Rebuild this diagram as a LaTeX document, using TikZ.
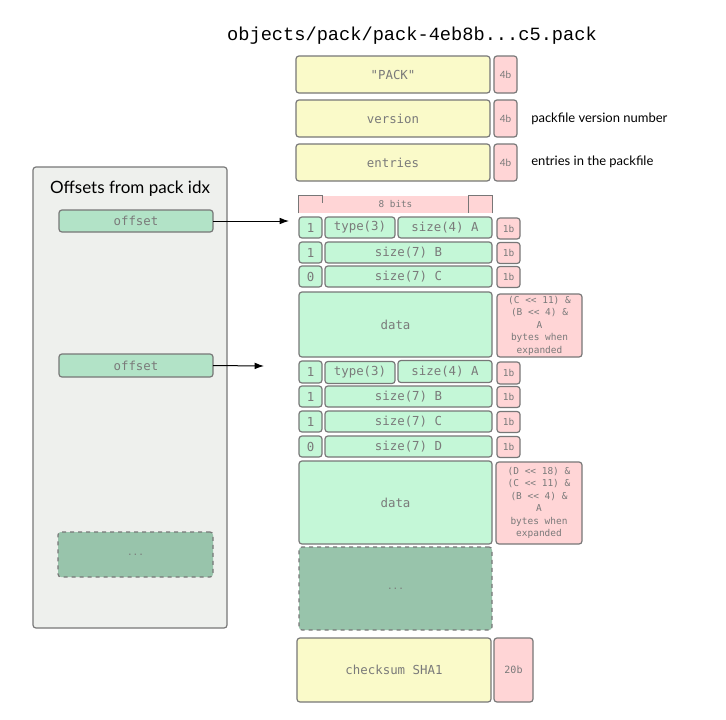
\documentclass[tikz,border=0pt]{standalone}
\usepackage{fontspec}
\setsansfont{Lato}
\setmonofont{DejaVu Sans Mono}
\newfontfamily\titlefont{Liberation Mono}
\usetikzlibrary{arrows.meta}
\definecolor{yel}{HTML}{FAFAC9}
\definecolor{pnk}{HTML}{FFD5D6}
\definecolor{grn}{HTML}{C4F7D7}
\definecolor{ofs}{HTML}{B2E3C7}
\definecolor{dgr}{HTML}{98C4AB}
\definecolor{pan}{HTML}{EEF0ED}
\definecolor{brd}{HTML}{777777}
\definecolor{txt}{HTML}{7A7A7A}
\tikzset{
  sz/.style 2 args={minimum width=#1*0.75pt, minimum height=#2*0.75pt},
  base/.style={draw=brd, line width=0.9pt, rounded corners=2.2pt, inner sep=0pt, outer sep=0pt, text=txt},
  ybox/.style={base, fill=yel, font=\ttfamily\fontsize{9.3}{11}\selectfont},
  gbox/.style={base, fill=grn, font=\ttfamily\fontsize{9.3}{11}\selectfont},
  pbox/.style={base, fill=pnk, font=\ttfamily\fontsize{7.1}{9.4}\selectfont, align=center},
  obox/.style={base, fill=ofs, font=\ttfamily\fontsize{9.3}{11}\selectfont},
  dbox/.style={base, fill=dgr, dashed, font=\ttfamily\fontsize{7}{9}\selectfont},
  lbl/.style={font=\sffamily\fontsize{9.75}{12}\selectfont, anchor=west, inner sep=0pt},
  arr/.style={-{Latex[length=7pt,width=5pt]}, line width=0.75pt},
  sb/.style={font=\sffamily\fontsize{7.5}{9}\selectfont},
}
\begin{document}
\begin{tikzpicture}[x=0.75pt,y=-0.75pt]
\useasboundingbox (0,0) rectangle (726,719);
\node[font=\titlefont\fontsize{14}{16}\selectfont] (title) at (412,36) {objects/pack/pack-4eb8b...c5.pack};
% header
\node[ybox, sz={194}{37}] (pack) at (393,74.5) {"PACK"};
\node[pbox, sb, sz={23}{37}] (p1) at (505.5,74.5) {4b};
\node[ybox, sz={194}{37}] (ver) at (393,118.5) {version};
\node[pbox, sb, sz={23}{37}] (p2) at (505.5,118.5) {4b};
\node[ybox, sz={194}{37}] (ent) at (393,162.5) {entries};
\node[pbox, sb, sz={23}{37}] (p3) at (505.5,162.5) {4b};
\node[lbl] (lv) at (531,119) {packfile version number};
\node[lbl] (le) at (531,162) {entries in the packfile};
% 8 bits
\node[fill=pnk, sz={193}{17}, inner sep=0pt, text=txt, font=\ttfamily\fontsize{7}{9}\selectfont] (bits) at (395.5,204.5) {8 bits};
\draw[brd, line width=0.9pt] (bits.south west) -- (bits.north west) -- ++(24,0) -- ++(0,7);
\draw[brd, line width=0.9pt] (bits.south east) -- (bits.north east) -- ++(-24,0) -- ++(0,17);
% object 1
\node[gbox, sz={23}{21}] (a1) at (310.5,227.5) {1};
\node[gbox, sz={70}{21}] (at) at (360,227.5) {type(3)};
\node[gbox, sz={94}{21}] (as) at (445,227.5) {size(4) A};
\node[pbox, sz={23}{21}] (ab1) at (508.5,228.5) {1b};
\node[gbox, sz={23}{21}] (b1) at (310.5,252.5) {1};
\node[gbox, sz={167}{21}] (bs) at (408.5,252.5) {size(7) B};
\node[pbox, sz={23}{21}] (bb1) at (508.5,253) {1b};
\node[gbox, sz={23}{21}] (c1) at (310.5,276.5) {0};
\node[gbox, sz={167}{21}] (cs) at (408.5,276.5) {size(7) C};
\node[pbox, sz={23}{21}] (cb1) at (508.5,277) {1b};
\node[gbox, sz={193}{65}] (d1) at (395.5,324.5) {data};
\node[pbox, sz={85}{63}] (e1) at (539.5,325.5) {(C << 11) \&\\(B << 4) \&\\A\\bytes when\\expanded};
% object 2
\node[gbox, sz={23}{22}] (a2) at (310.5,372) {1};
\node[gbox, sz={70}{22}] (at2) at (360,372.5) {type(3)};
\node[gbox, sz={94}{22}] (as2) at (445,371.5) {size(4) A};
\node[pbox, sz={23}{22}] (ab2) at (508.5,373) {1b};
\node[gbox, sz={23}{21}] (b2) at (310.5,396.5) {1};
\node[gbox, sz={167}{21}] (bs2) at (408.5,396.5) {size(7) B};
\node[pbox, sz={23}{21}] (bb2) at (508.5,397) {1b};
\node[gbox, sz={23}{21}] (c2) at (310.5,421.5) {1};
\node[gbox, sz={167}{21}] (cs2) at (408.5,421.5) {size(7) C};
\node[pbox, sz={23}{21}] (cb2) at (508.5,422) {1b};
\node[gbox, sz={23}{21}] (f2) at (310.5,446.5) {0};
\node[gbox, sz={167}{21}] (fs2) at (408.5,446.5) {size(7) D};
\node[pbox, sz={23}{21}] (fb2) at (508.5,447) {1b};
\node[gbox, sz={193}{83}] (d2) at (395.5,502.5) {data};
\node[pbox, sz={86}{82}] (e2) at (539,503) {(D << 18) \&\\(C << 11) \&\\(B << 4) \&\\A\\bytes when\\expanded};
\node[dbox, sz={193}{83}] (more) at (395.5,588.5) {...};
\node[ybox, sz={194}{64}] (sha) at (394,670) {checksum SHA1};
\node[pbox, sz={39}{64}, font=\ttfamily\fontsize{7.5}{9}\selectfont] (p20) at (513.5,670) {20b};
% left panel
\node[base, fill=pan, sz={194}{461}] (panel) at (130,397.5) {};
\node[font=\sffamily\fontsize{12.75}{15}\selectfont, inner sep=0pt] (ptitle) at (130,189) {Offsets from pack idx};
\node[obox, sz={154}{22}] (o1) at (136,221) {offset};
\node[obox, sz={154}{23}] (o2) at (136,365.5) {offset};
\node[dbox, sz={155}{45}] (o3) at (135.5,554.5) {...};
\coordinate (t1) at (289,221);
\coordinate (t2) at (264,366);
\draw[arr] (o1.east) -- (t1);
\draw[arr] (o2.east) -- (t2);
\end{tikzpicture}
\end{document}
